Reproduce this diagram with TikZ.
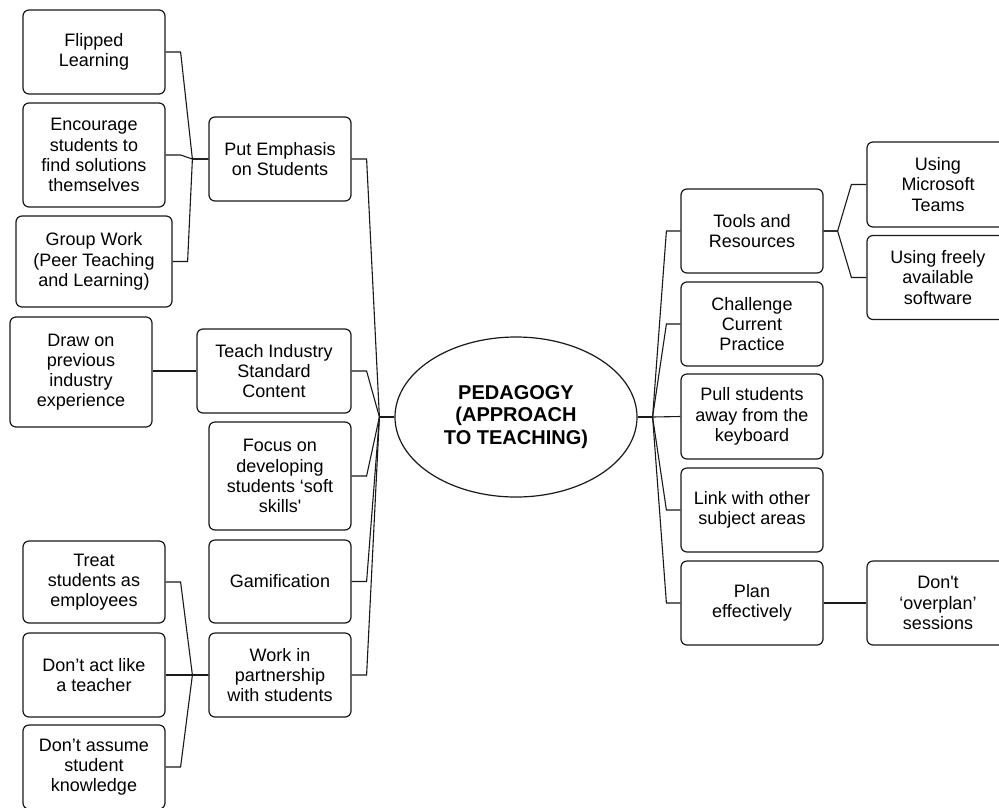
\documentclass[tikz,border=0pt]{standalone}
\usepackage{fontspec}
\setmainfont{Liberation Sans}
\usetikzlibrary{calc,shapes.geometric}

\tikzset{
  box/.style={draw=black!90, line width=1.2pt, rounded corners=6pt, fill=white,
    align=center, inner sep=0pt, font=\fontsize{18}{20.2}\selectfont},
  core/.style={draw=black!90, line width=1.2pt, ellipse, align=center, inner sep=0pt,
    minimum width=242pt, minimum height=160pt,
    font=\fontsize{20}{22.5}\selectfont\bfseries},
  link/.style={draw=black!90, line width=1.1pt, line join=miter},
}

\begin{document}
\begin{tikzpicture}[x=1pt, y=-1pt]
\useasboundingbox (0,0) rectangle (999,807);
\fill[white] (0,0) rectangle (999,807);
\clip (0,0) rectangle (999,807);

% centre
\node[core] (core) at (516,417) {PEDAGOGY\\(APPROACH\\TO TEACHING)};

% left branch, second level
\node[box, minimum width=142pt, minimum height=84pt]  (emph)  at (280,159)   {Put Emphasis\\on Students};
\node[box, minimum width=154pt, minimum height=84pt]  (teach) at (274,371)   {Teach Industry\\Standard\\Content};
\node[box, minimum width=142pt, minimum height=108pt] (focus) at (280,476)   {Focus on\\developing\\students ‘soft\\skills\textquotesingle};
\node[box, minimum width=142pt, minimum height=83pt]  (gam)   at (280,581.5) {Gamification};
\node[box, minimum width=142pt, minimum height=84pt]  (work)  at (280,675)   {Work in\\partnership\\with students};

% left branch, third level
\node[box, minimum width=142pt, minimum height=84pt]  (flip)   at (94,52)    {Flipped\\Learning};
\node[box, minimum width=142pt, minimum height=104pt] (enc)    at (94,155)   {Encourage\\students to\\find solutions\\themselves};
\node[box, minimum width=156pt, minimum height=91pt]  (grp)    at (94,261.5) {Group Work\\(Peer Teaching\\and Learning)};
\node[box, minimum width=142pt, minimum height=110pt] (drawon) at (81,372)   {Draw on\\previous\\industry\\experience};
\node[box, minimum width=142pt, minimum height=82pt]  (treat)  at (94,582)   {Treat\\students as\\employees};
\node[box, minimum width=142pt, minimum height=84pt]  (act)    at (94,675)   {Don’t act like\\a teacher};
\node[box, minimum width=142pt, minimum height=84pt]  (assume) at (94,767)   {Don’t assume\\student\\knowledge};

% right branch, second level
\node[box, minimum width=142pt, minimum height=84pt] (tools) at (752,231)   {Tools and\\Resources};
\node[box, minimum width=142pt, minimum height=84pt] (chal)  at (752,324)   {Challenge\\Current\\Practice};
\node[box, minimum width=142pt, minimum height=85pt] (pull)  at (752,416.5) {Pull students\\away from the\\keyboard};
\node[box, minimum width=142pt, minimum height=84pt] (other) at (752,510)   {Link with other\\subject areas};
\node[box, minimum width=142pt, minimum height=84pt] (plan)  at (752,603)   {Plan\\effectively};

% right branch, third level
\node[box, minimum width=142pt, minimum height=85pt] (teams) at (938,184.5) {Using\\Microsoft\\Teams};
\node[box, minimum width=142pt, minimum height=84pt] (free)  at (938,277.5) {Using freely\\available\\software};
\node[box, minimum width=142pt, minimum height=84pt] (over)  at (938,603)   {Don\textquotesingle t\\‘overplan’\\sessions};

% junction points beside the centre
\coordinate (jl) at ($(core.west)+(-15,0)$);
\coordinate (jr) at ($(core.east)+(15,0)$);

% centre to second level, left
\draw[link] (core.west) -- (jl);
\foreach \n in {emph,teach,focus,gam,work}
  \draw[link] (\n.east) -- ++(15,0) -- (jl);

% centre to second level, right
\draw[link] (core.east) -- (jr);
\foreach \n in {tools,chal,other,plan}
  \draw[link] (jr) -- ($(\n.west)+(-14,0)$) -- (\n.west);
\draw[link] (jr) -- (pull.west);

% forks on the left
\foreach \n in {flip,enc,grp}
  \draw[link] (\n.east) -- ++(15,0) -- ($(emph.west)+(-16,0)$) -- (emph.west);
\foreach \n in {treat,act,assume}
  \draw[link] (\n.east) -- ++(15,0) -- ($(work.west)+(-16,0)$) -- (work.west);
\draw[link] (drawon.east |- teach.west) -- (teach.west);

% forks on the right
\foreach \n in {teams,free}
  \draw[link] (tools.east) -- ++(14,0) -- ($(\n.west)+(-15,0)$) -- (\n.west);
\draw[link] (plan.east) -- (over.west);
\end{tikzpicture}
\end{document}
